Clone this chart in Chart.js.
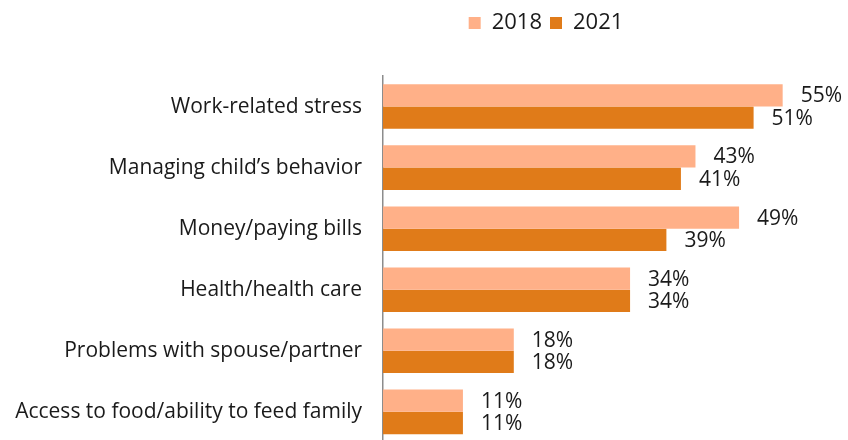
<!DOCTYPE html>
<html>
<head>
<meta charset="utf-8">
<script src="https://cdn.jsdelivr.net/npm/chart.js@4"></script>
<style>
  html, body { margin: 0; padding: 0; background: #fff; overflow: hidden; }
  #wrap { position: relative; width: 848px; height: 476px; }
</style>
</head>
<body>
<div id="wrap"><canvas id="stressChart"></canvas></div>
<script>
// Data
const categories = [
  'Work-related stress',
  'Managing child\u2019s behavior',
  'Money/paying bills',
  'Health/health care',
  'Problems with spouse/partner',
  'Access to food/ability to feed family'
];
const years = ['2018', '2021'];
const values2018 = [55, 43, 49, 34, 18, 11];
const values2021 = [51, 41, 39, 34, 18, 11];

const FONT = '"Open Sans", sans-serif';
const TEXT = '#1a1a1a';

// Percent labels to the right of each bar
const barLabels = {
  id: 'barLabels',
  afterDatasetsDraw(chart) {
    const ctx = chart.ctx;
    ctx.save();
    ctx.font = '21px ' + FONT;
    ctx.fillStyle = TEXT;
    ctx.textAlign = 'left';
    ctx.textBaseline = 'middle';
    chart.data.datasets.forEach((ds, i) => {
      chart.getDatasetMeta(i).data.forEach((bar, j) => {
        ctx.fillText(ds.data[j] + '%', bar.x + 18, bar.y + 1);
      });
    });
    ctx.restore();
  }
};

// Move the legend box over the bars, near the top edge
const legendPlace = {
  id: 'legendPlace',
  afterLayout(chart) {
    const lg = chart.legend;
    const h = lg.height;
    lg.left = 446;
    lg.right = 646;
    lg.width = 200;
    lg.top = 4;
    lg.bottom = 4 + h;
    lg.adjustHitBoxes();
  }
};

new Chart(document.getElementById('stressChart'), {
  type: 'bar',
  data: {
    labels: categories,
    datasets: [
      {
        label: years[0],
        data: values2018,
        backgroundColor: '#ffb088',
        borderWidth: 0,
        barPercentage: 1,
        categoryPercentage: 0.73
      },
      {
        label: years[1],
        data: values2021,
        backgroundColor: '#e07b19',
        borderWidth: 0,
        barPercentage: 1,
        categoryPercentage: 0.73
      }
    ]
  },
  options: {
    indexAxis: 'y',
    responsive: true,
    maintainAspectRatio: false,
    animation: false,
    layout: { padding: { top: 36, right: 29, bottom: 0, left: 0 } },
    plugins: {
      legend: {
        position: 'top',
        align: 'center',
        labels: {
          color: TEXT,
          font: { family: FONT, size: 22 },
          boxWidth: 12,
          boxHeight: 12,
          padding: 8
        }
      },
      tooltip: { enabled: false }
    },
    scales: {
      x: {
        display: false,
        min: 0,
        max: 60
      },
      y: {
        grid: { display: false, drawTicks: false },
        border: { display: true, color: '#8c8c8c', width: 1.5 },
        ticks: {
          color: TEXT,
          font: { family: FONT, size: 21 },
          padding: 21
        },
        afterFit(scale) { scale.width = 383; }
      }
    }
  },
  plugins: [barLabels, legendPlace]
});
</script>
</body>
</html>
